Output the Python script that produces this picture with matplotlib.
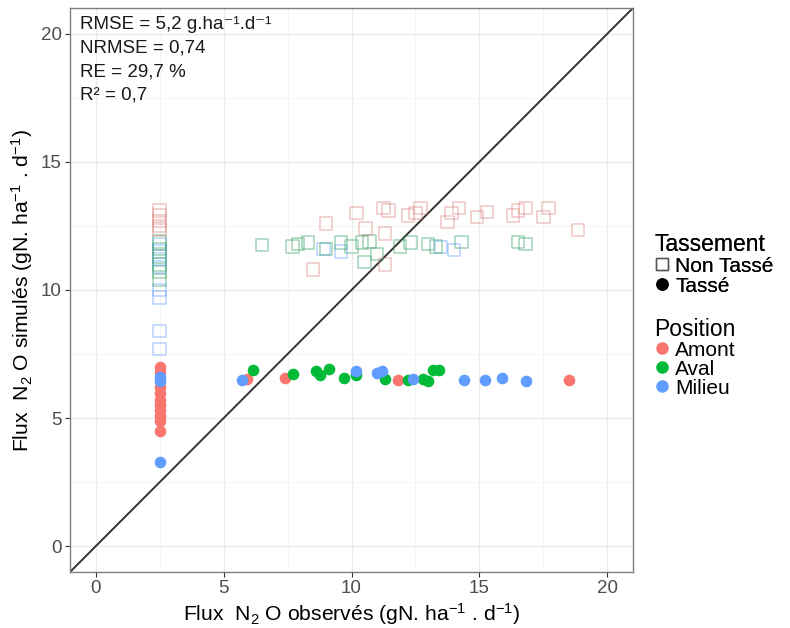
import matplotlib
matplotlib.use("Agg")
import matplotlib.pyplot as plt
from matplotlib.lines import Line2D

plt.rcParams['font.family'] = ['Liberation Sans', 'DejaVu Sans']
plt.rcParams['mathtext.fontset'] = 'custom'
plt.rcParams['mathtext.rm'] = 'Liberation Sans'
plt.rcParams['mathtext.it'] = 'Liberation Sans:italic'
plt.rcParams['mathtext.bf'] = 'Liberation Sans:bold'

# ---- data ----
nt_amont_x = [2.5, 2.5, 2.5, 2.5, 2.5, 9.0, 10.2, 10.55, 8.5, 11.25, 11.45, 11.3, 11.3,
              12.2, 12.5, 12.7, 13.75, 13.9, 14.2, 14.9, 15.3, 16.3, 16.5, 16.8, 17.5, 17.7, 18.85]
nt_amont_y = [13.1, 12.9, 12.7, 12.5, 12.35, 12.6, 13.0, 12.4, 10.8, 13.2, 13.1, 12.2, 11.0,
              12.9, 13.0, 13.2, 12.66, 13.0, 13.2, 12.85, 13.05, 12.9, 13.1, 13.2, 12.85, 13.2, 12.34]
nt_aval_x = [2.5, 2.5, 2.5, 2.5, 2.5, 2.5, 6.5, 7.7, 7.9, 8.3, 9.0, 9.6, 10.0, 10.4, 10.7,
             10.5, 11.0, 11.9, 12.3, 13.0, 13.3, 14.3, 16.5, 16.8]
nt_aval_y = [11.9, 11.6, 11.3, 11.0, 10.7, 10.4, 11.76, 11.7, 11.8, 11.85, 11.6, 11.85, 11.7,
             11.85, 11.9, 11.1, 11.4, 11.7, 11.85, 11.8, 11.7, 11.88, 11.88, 11.8]
nt_milieu_x = [2.5, 2.5, 2.5, 2.5, 2.5, 2.5, 2.5, 2.5, 8.9, 9.6, 13.5, 14.0]
nt_milieu_y = [11.8, 11.5, 11.2, 10.9, 10.0, 9.7, 8.4, 7.7, 11.6, 11.5, 11.68, 11.56]

t_amont_x = [2.5, 2.5, 2.5, 2.5, 2.5, 2.5, 2.5, 2.5, 2.5, 2.5, 5.9, 7.4, 11.8, 18.5]
t_amont_y = [7.0, 6.8, 6.2, 6.0, 5.7, 5.5, 5.3, 5.1, 4.9, 4.5, 6.52, 6.56, 6.48, 6.5]
t_aval_x = [6.17, 7.7, 8.6, 8.75, 9.14, 9.7, 10.16, 11.3, 12.2, 12.8, 13.0, 13.2, 13.4]
t_aval_y = [6.88, 6.72, 6.84, 6.68, 6.91, 6.56, 6.68, 6.52, 6.48, 6.52, 6.45, 6.88, 6.88]
t_milieu_x = [2.5, 2.5, 2.5, 5.74, 10.16, 11.0, 11.2, 12.4, 14.4, 15.2, 15.9, 16.8]
t_milieu_y = [6.6, 6.45, 3.3, 6.48, 6.84, 6.75, 6.85, 6.52, 6.48, 6.48, 6.56, 6.45]

ticks = [0, 5, 10, 15, 20]
stats_text = ["RMSE = 5,2 g.ha\u207b\u00b9.d\u207b\u00b9", "NRMSE = 0,74", "RE = 29,7 %", "R\u00b2 = 0,7"]

col_amont = '#F8766D'
col_aval = '#00BA38'
col_milieu = '#619CFF'

fig = plt.figure(figsize=(7.9, 6.28), dpi=100)
ax = fig.add_axes([70/790, 1-572/628, (633-70)/790, (572-8)/628])

ax.set_xlim(-1, 21)
ax.set_ylim(-1, 21)
ax.set_xticks(ticks)
ax.set_yticks(ticks)
ax.set_xticks([2.5, 7.5, 12.5, 17.5], minor=True)
ax.set_yticks([2.5, 7.5, 12.5, 17.5], minor=True)
ax.grid(which='major', color='#EBEBEB', linewidth=1.0)
ax.grid(which='minor', color='#F4F4F4', linewidth=0.6)
ax.set_axisbelow(True)
for sp in ax.spines.values():
    sp.set_color('#7F7F7F')
    sp.set_linewidth(1.0)
ax.tick_params(which='major', length=3.5, color='#333333', labelsize=13.5, labelcolor='#4D4D4D', pad=2.5)
ax.tick_params(which='minor', length=0)

ax.plot([-1, 21], [-1, 21], color='#333333', linewidth=1.4, zorder=2)

sq_kw = dict(marker='s', facecolors='none', s=80, linewidths=1.1, alpha=0.45, zorder=3)
ax.scatter(nt_milieu_x, nt_milieu_y, edgecolors=col_milieu, **sq_kw)
ax.scatter(nt_aval_x, nt_aval_y, edgecolors='#2E9E5E', **sq_kw)
ax.scatter(nt_amont_x, nt_amont_y, edgecolors='#D9807A', **sq_kw)

ci_kw = dict(marker='o', s=70, linewidths=0, zorder=4)
ax.scatter(t_amont_x, t_amont_y, color=col_amont, **ci_kw)
ax.scatter(t_aval_x, t_aval_y, color=col_aval, **ci_kw)
ax.scatter(t_milieu_x, t_milieu_y, color=col_milieu, **ci_kw)

for i, t in enumerate(stats_text):
    ax.text(0.018, 0.985 - i*0.0415, t, transform=ax.transAxes, fontsize=13.5,
            va='top', ha='left', color='#1a1a1a')

ax.set_xlabel(r'Flux  N$_2$ O observés (gN. ha$^{-1}$ . d$^{-1}$)', fontsize=15.2, labelpad=3)
ax.set_ylabel(r'Flux  N$_2$ O simulés (gN. ha$^{-1}$ . d$^{-1}$)', fontsize=15.2, labelpad=4)

h1 = [Line2D([], [], marker='s', linestyle='none', markerfacecolor='none',
             markeredgecolor='#555555', markersize=8, markeredgewidth=1.0),
      Line2D([], [], marker='o', linestyle='none', color='black', markersize=8)]
leg1 = fig.legend(h1, ['Non Tassé', 'Tassé'], title='Tassement', loc='upper left',
                  bbox_to_anchor=(640/790, 1-218/628), frameon=False, fontsize=15,
                  title_fontsize=16.5, handlelength=0.7, handletextpad=0.3,
                  labelspacing=0.05, borderpad=0.2)
leg1._legend_box.align = 'left'
h2 = [Line2D([], [], marker='o', linestyle='none', color=c, markersize=8)
      for c in [col_amont, col_aval, col_milieu]]
leg2 = fig.legend(h2, ['Amont', 'Aval', 'Milieu'], title='Position', loc='upper left',
                  bbox_to_anchor=(640/790, 1-303/628), frameon=False, fontsize=15,
                  title_fontsize=16.5, handlelength=0.7, handletextpad=0.3,
                  labelspacing=0.0, borderpad=0.2)
leg2._legend_box.align = 'left'
fig.add_artist(leg1)

fig.savefig('out.png', dpi=100)
